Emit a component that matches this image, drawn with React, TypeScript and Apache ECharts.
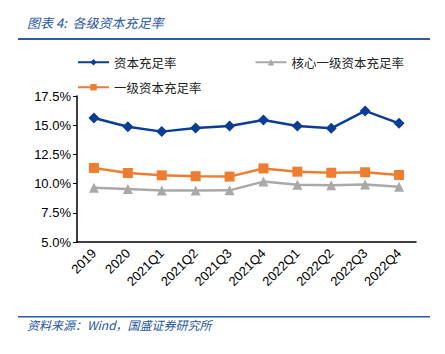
import React, { useEffect, useRef } from "react";
import * as echarts from "echarts";

const categories = ["2019", "2020", "2021Q1", "2021Q2", "2021Q3", "2021Q4", "2022Q1", "2022Q2", "2022Q3", "2022Q4"];
const capitalRatio = [15.62, 14.87, 14.45, 14.76, 14.93, 15.45, 14.93, 14.73, 16.22, 15.16];
const tier1Ratio = [11.34, 10.91, 10.71, 10.63, 10.6, 11.3, 11.02, 10.93, 10.97, 10.74];
const coreTier1Ratio = [9.65, 9.54, 9.4, 9.4, 9.42, 10.17, 9.9, 9.85, 9.93, 9.73];
const seriesNames = ["资本充足率", "核心一级资本充足率", "一级资本充足率"];
const yTicks = { min: 5, max: 17.5, interval: 2.5 };

const BLUE = "#0a3d94";
const ORANGE = "#ef7d31";
const GRAY = "#a9a9a9";
const TITLE_BLUE = "#2655a3";
const CJK = "'Noto Sans CJK SC', sans-serif";

export default function App() {
  const ref = useRef<HTMLDivElement>(null);
  useEffect(() => {
    if (!ref.current) return;
    const chart = echarts.init(ref.current, null, { renderer: "svg" });
    const legendText = { fontFamily: CJK, fontSize: 12.5, color: "#222" };
    chart.setOption({
      animation: false,
      backgroundColor: "#fff",
      graphic: [
        {
          type: "text",
          left: 27,
          top: 16,
          style: { text: "图表 4:  各级资本充足率", font: `italic 13px ${CJK}`, fill: TITLE_BLUE },
        },
        { type: "rect", shape: { x: 18, y: 38, width: 412, height: 2 }, style: { fill: "#2b5aa6" } },
        { type: "rect", shape: { x: 18, y: 316, width: 412, height: 1.5 }, style: { fill: "#2b5aa6" } },
        {
          type: "text",
          left: 27,
          top: 318,
          style: { text: "资料来源：Wind，国盛证券研究所", font: `italic 12px ${CJK}`, fill: TITLE_BLUE },
        },
      ],
      legend: [
        {
          data: [seriesNames[0], seriesNames[1]],
          left: 72,
          top: 51,
          itemWidth: 31,
          itemHeight: 8,
          itemGap: 78,
          textStyle: legendText,
        },
        {
          data: [seriesNames[2]],
          left: 72,
          top: 76,
          itemWidth: 31,
          itemHeight: 8,
          textStyle: legendText,
        },
      ],
      grid: { left: 77, right: 29, top: 96, bottom: 112 },
      xAxis: {
        type: "category",
        data: categories,
        axisLine: { lineStyle: { color: "#000", width: 1.5 } },
        axisTick: { inside: true, length: 4, lineStyle: { color: "#000" } },
        axisLabel: { rotate: 45, fontFamily: "Arial, 'Liberation Sans'", fontSize: 13, color: "#000", margin: 9, interval: 0 },
      },
      yAxis: {
        type: "value",
        min: yTicks.min,
        max: yTicks.max,
        interval: yTicks.interval,
        axisLine: { show: true, lineStyle: { color: "#000", width: 1.5 } },
        axisTick: { show: true, length: 4, lineStyle: { color: "#000" } },
        splitLine: { show: false },
        axisLabel: {
          formatter: (v: number) => v.toFixed(1) + "%",
          fontFamily: "Arial, 'Liberation Sans'",
          fontSize: 13,
          color: "#000",
          margin: 6,
        },
      },
      series: [
        {
          name: seriesNames[0],
          type: "line",
          data: capitalRatio,
          symbol: "diamond",
          symbolSize: 11,
          lineStyle: { color: BLUE, width: 2.5 },
          itemStyle: { color: BLUE },
        },
        {
          name: seriesNames[1],
          type: "line",
          data: coreTier1Ratio,
          symbol: "triangle",
          symbolSize: 10,
          lineStyle: { color: GRAY, width: 2.5 },
          itemStyle: { color: GRAY },
        },
        {
          name: seriesNames[2],
          type: "line",
          data: tier1Ratio,
          symbol: "rect",
          symbolSize: 10,
          lineStyle: { color: ORANGE, width: 2.5 },
          itemStyle: { color: ORANGE },
        },
      ],
    });
    return () => chart.dispose();
  }, []);
  return <div ref={ref} style={{ width: 445, height: 354, position: "absolute", left: 0, top: 0 }} />;
}
